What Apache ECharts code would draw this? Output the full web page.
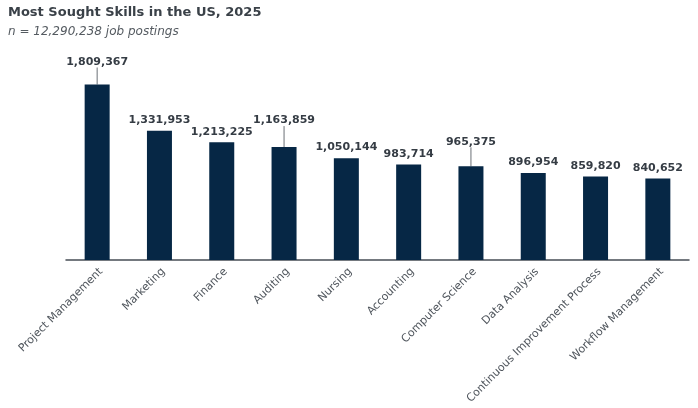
<!DOCTYPE html>
<html>
<head>
<meta charset="utf-8">
<script src="https://cdn.jsdelivr.net/npm/echarts@6/dist/echarts.min.js"></script>
<style>html,body{margin:0;padding:0;background:#fff}#c{width:698px;height:408px}</style>
</head>
<body>
<div id="c"></div>
<script>
const categories = ['Project Management','Marketing','Finance','Auditing','Nursing','Accounting','Computer Science','Data Analysis','Continuous Improvement Process','Workflow Management'];
const postings = [1809367,1331953,1213225,1163859,1050144,983714,965375,896954,859820,840652];
const titleText = 'Most Sought Skills in the US, 2025';
const subtitleText = 'n = 12,290,238 job postings';

// label lift (px) to avoid overlap, applied by label layout
const labelLift = [-12,0,0,-16,0,0,-14,0,0,0];

const barData = postings.map((v,i)=>({value:v, labelLine:{show:labelLift[i]!==0}}));

const chart = echarts.init(document.getElementById('c'), null, {renderer:'canvas'});
chart.setOption({
  animation:false,
  backgroundColor:'#fff',
  title:{
    text:titleText, subtext:subtitleText, left:3, top:1, itemGap:7,
    textStyle:{fontFamily:'DejaVu Sans', fontWeight:'bold', fontSize:13, color:'#3a4148'},
    subtextStyle:{fontFamily:'DejaVu Sans', fontStyle:'italic', fontSize:12, color:'#555b61'}
  },
  grid:{left:66, right:9, top:66, bottom:148},
  xAxis:{
    type:'category', data:categories,
    axisTick:{show:false},
    axisLine:{lineStyle:{color:'#474d55', width:1.5}},
    axisLabel:{rotate:45, interval:0, verticalAlign:'top', fontFamily:'DejaVu Sans', fontSize:11, color:'#4f555c', margin:6}
  },
  yAxis:{type:'value', min:0, max:2000000, show:false, splitLine:{show:false}},
  series:[{
    type:'bar', data:barData, barWidth:25,
    itemStyle:{color:'#062745'},
    label:{show:true, position:'top', distance:5, fontFamily:'DejaVu Sans', fontWeight:'bold', fontSize:11, color:'#353c44',
      formatter:p=>p.value.toLocaleString('en-US')},
    labelLine:{lineStyle:{color:'#6b7076', width:1}},
    labelLayout:function(p){ return {dy:labelLift[p.dataIndex]}; }
  }]
});
</script>
</body>
</html>
